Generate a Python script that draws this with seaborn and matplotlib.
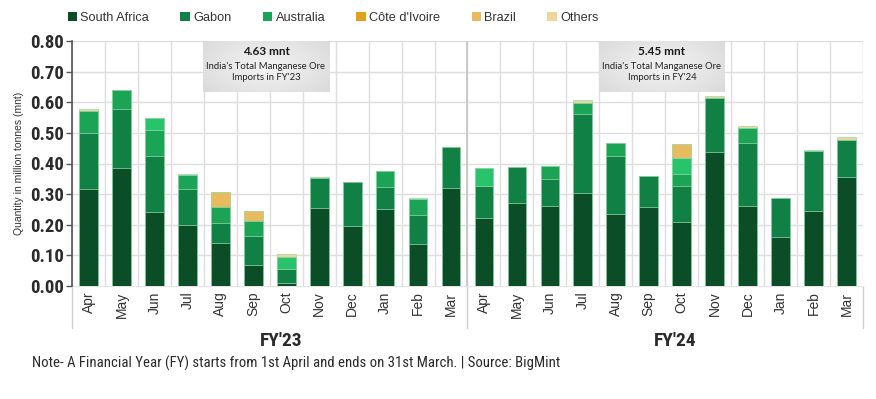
import numpy as np
import pandas as pd
import matplotlib
matplotlib.use("Agg")
import matplotlib.pyplot as plt
from matplotlib.patches import Patch
import matplotlib.transforms as mtransforms
import seaborn as sns

# ---------------- data ----------------
months = ["Apr", "May", "Jun", "Jul", "Aug", "Sep", "Oct", "Nov", "Dec", "Jan", "Feb", "Mar"]
fiscal_years = ["FY'23", "FY'24"]
fy_totals = ["4.63", "5.45"]

south_africa = [0.316, 0.385, 0.241, 0.200, 0.141, 0.070, 0.011, 0.255, 0.195, 0.252, 0.138, 0.321,
                0.223, 0.272, 0.261, 0.303, 0.236, 0.258, 0.209, 0.436, 0.262, 0.160, 0.246, 0.357]
gabon = [0.184, 0.192, 0.185, 0.117, 0.066, 0.094, 0.043, 0.097, 0.143, 0.071, 0.095, 0.134,
         0.104, 0.117, 0.088, 0.258, 0.188, 0.100, 0.118, 0.178, 0.205, 0.128, 0.194, 0.120]
australia = [0.073, 0.062, 0.084, 0.045, 0.051, 0.048, 0.000, 0.000, 0.000, 0.054, 0.052, 0.000,
             0.000, 0.000, 0.042, 0.038, 0.043, 0.000, 0.038, 0.000, 0.048, 0.000, 0.000, 0.000]
# bright-green segment shown in the bars but not named in the legend
unlisted_green = [0.000, 0.000, 0.039, 0.000, 0.000, 0.000, 0.041, 0.000, 0.000, 0.000, 0.000, 0.000,
                  0.058, 0.000, 0.000, 0.000, 0.000, 0.000, 0.052, 0.000, 0.000, 0.000, 0.000, 0.000]
cote_divoire = [0.0] * 24
brazil = [0.000, 0.000, 0.000, 0.000, 0.050, 0.033, 0.000, 0.000, 0.000, 0.000, 0.000, 0.000,
          0.000, 0.000, 0.000, 0.000, 0.000, 0.000, 0.047, 0.000, 0.000, 0.000, 0.000, 0.000]
others = [0.004, 0.000, 0.000, 0.004, 0.000, 0.000, 0.009, 0.005, 0.003, 0.000, 0.002, 0.000,
          0.000, 0.000, 0.000, 0.008, 0.000, 0.000, 0.000, 0.007, 0.007, 0.000, 0.005, 0.010]

series_names = ["South Africa", "Gabon", "Australia", "_unlisted", "Côte d'Ivoire", "Brazil", "Others"]
series_values = [south_africa, gabon, australia, unlisted_green, cote_divoire, brazil, others]
series_colors = ["#0b4d26", "#118044", "#1ba456", "#27c46b", "#e3a11b", "#e8bb5e", "#ecd69c"]

periods = [f"{fy}-{m}" for fy in fiscal_years for m in months]

# ---------------- figure ----------------
sns.set_theme(style="white")
plt.rcParams["font.family"] = ["Liberation Sans", "DejaVu Sans"]
COND = ["Roboto Condensed", "Roboto", "DejaVu Sans"]

fig = plt.figure(figsize=(8.76, 3.99), dpi=100)
ax = fig.add_axes([72 / 876, 1 - 286 / 399, (863 - 72) / 876, (286 - 41) / 399])

# stacked bars via cumulative overlay (tallest first)
cum = np.cumsum(np.array(series_values), axis=0)
for i in range(len(series_names) - 1, -1, -1):
    tmp = pd.DataFrame({"period": periods, "val": cum[i]})
    sns.barplot(data=tmp, x="period", y="val", order=periods, color=series_colors[i],
                saturation=1, width=0.57, errorbar=None, ax=ax,
                edgecolor="#9ad8ae", linewidth=0.5, zorder=3)

ax.set_xlim(-0.5, len(periods) - 0.5)
ax.set_ylim(0, 0.8)
ax.set_yticks(np.arange(0, 0.81, 0.1))
ax.set_yticklabels([f"{t:.2f}" for t in np.arange(0, 0.81, 0.1)],
                   fontsize=13.5, fontweight="bold", color="#2b2b2b", family=COND)
ax.set_xticks(range(len(periods)))
ax.set_xticklabels(months * 2, rotation=90, fontsize=10, color="#333333")
ax.tick_params(axis="x", length=0, pad=4)
ax.tick_params(axis="y", length=4, width=1, color="#555555", pad=2, left=True)

# grid
for yv in np.arange(0.1, 0.81, 0.1):
    ax.axhline(yv, color="#dedede", lw=1, zorder=0)
for xv in np.arange(-0.5, len(periods), 1.0):
    ax.axvline(xv, color="#dedede", lw=1, zorder=0)
ax.axvline(11.5, color="#c4c4c4", lw=1.2, zorder=1)

for s in ["top", "right", "bottom"]:
    ax.spines[s].set_visible(False)
ax.spines["left"].set_color("#555555")
ax.spines["left"].set_linewidth(1.2)
ax.set_xlabel("")
ax.set_ylabel("Quantity in million tonnes (mnt)", fontsize=7.5, color="#333333", labelpad=4)

# group brackets below the axis
trans = mtransforms.blended_transform_factory(ax.transData, ax.transAxes)
for xv in [-0.5, 11.5, 23.5]:
    ax.plot([xv, xv], [0, -0.17], transform=trans, color="#d0d0d0", lw=1, clip_on=False)
ax.plot([-0.5, 23.5], [0, 0], transform=trans, color="#e4e4e4", lw=0.8, clip_on=False, zorder=2)
for xc, fy in zip([5.85, 17.8], fiscal_years):
    ax.text(xc, -0.225, fy, transform=trans, ha="center", va="center",
            fontsize=14, fontweight="bold", color="#2b2b2b", family=COND)

# annotation boxes with soft radial gradient
gy, gx = np.mgrid[-1:1:60j, -1:1:120j]
grad = np.sqrt(gx ** 2 * 0.8 + gy ** 2 * 0.5)
for (x0, x1), tot, fy in zip([(3.47, 7.30), (15.49, 19.31)], fy_totals, fiscal_years):
    ax.imshow(grad, cmap=matplotlib.colors.LinearSegmentedColormap.from_list(
        "g", ["#f4f4f4", "#d9d9d9"]), extent=[x0, x1, 0.632, 0.80], aspect="auto",
        zorder=2, vmin=0, vmax=1.2)
    xm = (x0 + x1) / 2
    ax.text(xm, 0.765, f"{tot} mnt", ha="center", va="center", fontsize=8.5,
            fontweight="bold", color="#1a1a1a", zorder=4, family=["Lato", "DejaVu Sans"])
    ax.text(xm, 0.700, f"India's Total Manganese Ore\nImports in {fy}", ha="center",
            va="center", fontsize=6.8, color="#222222", zorder=4, linespacing=1.3,
            family=["Lato", "DejaVu Sans"])
ax.set_xlim(-0.5, len(periods) - 0.5)
ax.set_ylim(0, 0.8)

# legend
handles = [Patch(facecolor=c, edgecolor="none", label=n)
           for n, c in zip(series_names, series_colors) if not n.startswith("_")]
fig.legend(handles=handles, loc="center left", bbox_to_anchor=(0.064, 0.955), ncol=6,
           frameon=False, fontsize=9.2, handlelength=0.75, handleheight=0.75,
           handletextpad=0.25, columnspacing=2.45, labelcolor="#333333")

fig.text(32 / 876, 1 - 363 / 399,
         "Note- A Financial Year (FY) starts from 1st April and ends on 31st March. | Source: BigMint",
         fontsize=10.6, color="#2b2b2b", va="center", ha="left", family=COND)

fig.savefig("out.png", dpi=100, facecolor="white")
